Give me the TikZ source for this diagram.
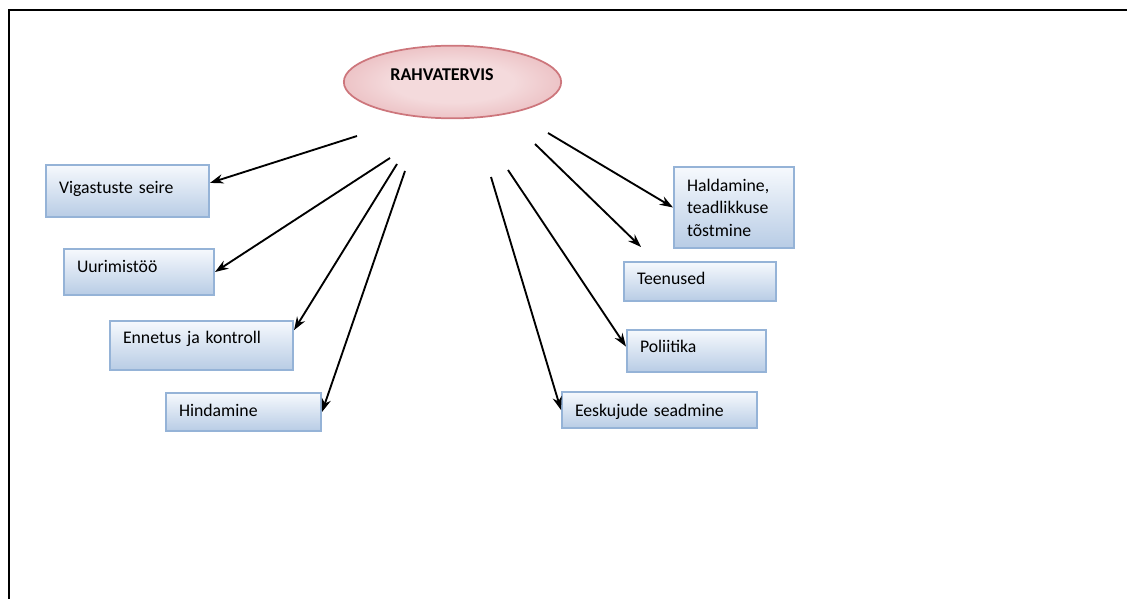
\documentclass[tikz,border=0pt]{standalone}
\usepackage{fontspec}
\setmainfont{Carlito}
\usetikzlibrary{arrows.meta, calc, shapes.geometric}

\definecolor{boxtop}{RGB}{246,249,253}
\definecolor{boxbot}{RGB}{184,204,229}
\definecolor{boxline}{RGB}{149,179,215}
\definecolor{pinkin}{RGB}{244,218,220}
\definecolor{pinkout}{RGB}{220,144,149}
\definecolor{pinkline}{RGB}{205,118,124}

\pgfdeclareradialshading{hubshade}{\pgfpoint{0bp}{0bp}}{%
  color(0bp)=(pinkin); color(14bp)=(pinkin); color(50bp)=(pinkout); color(75bp)=(pinkout)}

\tikzset{
  topic/.style={draw=boxline, line width=1.5pt, top color=boxtop, bottom color=boxbot,
    align=left, inner xsep=9.75pt, font=\fontsize{13.3}{16.9}\selectfont},
  lift/.style={text depth=4pt, text height=#1},
  hub/.style={ellipse, draw=pinkline, line width=1.3pt, shading=hubshade,
    minimum width=163pt, minimum height=54.5pt, inner sep=0pt},
  link/.style={->, line width=1.4pt}
}

\begin{document}
\begin{tikzpicture}[x=0.75pt, y=-0.75pt, >={Stealth[length=10pt,width=7pt]}]
    \useasboundingbox (0,0) rectangle (1127,599);

    % Cadre
    \draw[line width=1.5pt] (9,599) -- (9,10) -- (1127,10);

    % Ellipse centrale
    \node[hub] (rahva) at (452.5,82) {};
    \node[font=\bfseries\fontsize{13.5}{16}\selectfont] (rahvatxt) at (442,75) {RAHVATERVIS};

    % Boites de gauche
    \node[topic, lift=8.1pt, text width=102.75pt, minimum height=39pt]    (vig) at (127.5,191)   {Vigastuste seire};
    \node[topic, lift=5.1pt, text width=93pt,     minimum height=34.5pt]  (uur) at (139,272)     {Uurimistöö};
    \node[topic, lift=1.4pt, text width=117.75pt, minimum height=36.75pt] (enn) at (201.5,345.5) {Ennetus ja kontroll};
    \node[topic, lift=11.1pt, text width=96.75pt, minimum height=28.5pt]  (hin) at (243.5,412)   {Hindamine};

    % Boites de droite
    \node[topic, text width=70.5pt, minimum height=60.75pt] (hal) at (734,207.5) {Haldamine,\\teadlikkuse\\tõstmine};
    \node[topic, lift=8.9pt, text width=94.5pt,   minimum height=29.25pt] (teen) at (700,281.5) {Teenused};
    \node[topic, lift=6.6pt, text width=84.75pt,  minimum height=31.5pt]  (pol)  at (696.5,351) {Poliitika};
    \node[topic, lift=14.1pt, text width=126.75pt, minimum height=27pt]   (ees)  at (659.5,410) {Eeskujude seadmine};

    % Departs des fleches
    \coordinate (t1) at (357,136);
    \coordinate (t2) at (390,158);
    \coordinate (t3) at (397,164);
    \coordinate (t4) at (405,171);
    \coordinate (t5) at (491,177);
    \coordinate (t6) at (508,170);
    \coordinate (t7) at (535,144);
    \coordinate (t8) at (548,133);
    \coordinate (h7) at (641,247);

    % Fleches
    \draw[link] (t1) -- ($(vig.north east)!0.35!(vig.south east)$);
    \draw[link] (t2) -- (uur.east);
    \draw[link] (t3) -- ($(enn.north east)!0.2!(enn.south east)$);
    \draw[link] (t4) -- (hin.east);
    \draw[link] (t5) -- (ees.west);
    \draw[link] (t6) -- ($(pol.north west)!0.4!(pol.south west)$);
    \draw[link] (t7) -- (h7);
    \draw[link] (t8) -- (hal.west);

\end{tikzpicture}
\end{document}
